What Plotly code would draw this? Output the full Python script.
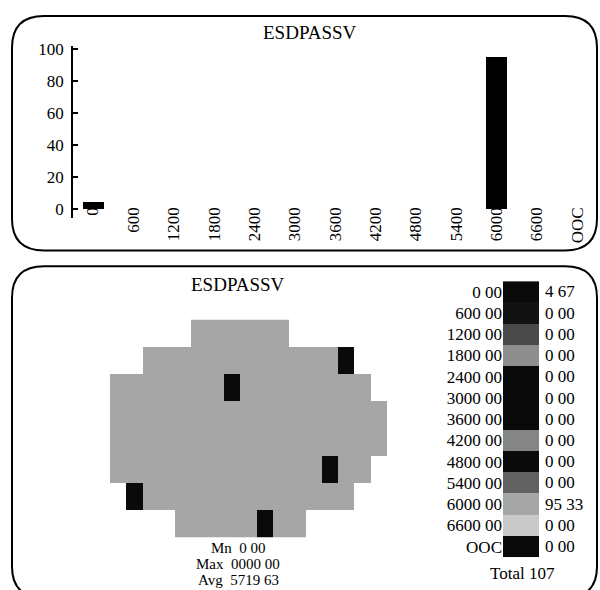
import plotly.graph_objects as go

# ---------------- data ----------------
bin_labels = ["0", "600", "1200", "1800", "2400", "3000", "3600",
              "4200", "4800", "5400", "6000", "6600", "OOC"]
bin_percent = [4.67, 0, 0, 0, 0, 0, 0, 0, 0, 0, 95.33, 0, 0]

legend_labels = ["0 00", "600 00", "1200 00", "1800 00", "2400 00", "3000 00",
                 "3600 00", "4200 00", "4800 00", "5400 00", "6000 00",
                 "6600 00", "OOC"]
legend_values = ["4 67", "0 00", "0 00", "0 00", "0 00", "0 00", "0 00",
                 "0 00", "0 00", "0 00", "95 33", "0 00", "0 00"]
bin_colors = ["#0a0a0a", "#121212", "#4a4a4a", "#8e8e8e", "#0a0a0a", "#0a0a0a",
              "#0a0a0a", "#858585", "#0a0a0a", "#626262", "#a6a6a6",
              "#c9c9c9", "#0a0a0a"]

# wafer map: 'g' = die in bin 6000, 'b' = die in bin 0, '.' = no die
wafer_map = [
    ".....gggggg......",
    "..ggggggggggggb..",
    "gggggggbgggggggg.",
    "ggggggggggggggggg",
    "ggggggggggggggggg",
    "gggggggggggggbgg.",
    ".bggggggggggggg..",
    "....gggggbgg.....",
]
die_code_value = {"g": 6000, "b": 0}

title_text = "ESDPASSV"
stats_lines = ["Mn  0 00", "Max  0000 00", "Avg  5719 63"]
total_text = "Total 107"

# ---------------- helpers ----------------
W, H = 600, 590
FONT = "Liberation Serif"


def X(px):
    return px / W


def Y(py):
    return 1 - py / H


def rounded_path(x0, y0, x1, y1, r):
    rx, ry = r / W, r / H
    a, b, c, d = X(x0), X(x1), Y(y0), Y(y1)  # c top, d bottom
    return (f"M {a+rx},{c} L {b-rx},{c} Q {b},{c} {b},{c-ry} "
            f"L {b},{d+ry} Q {b},{d} {b-rx},{d} L {a+rx},{d} "
            f"Q {a},{d} {a},{d+ry} L {a},{c-ry} Q {a},{c} {a+rx},{c} Z")


fig = go.Figure()

# ---------------- top histogram ----------------
fig.add_trace(go.Bar(
    x=bin_labels, y=bin_percent, marker=dict(color="black", line=dict(width=0)),
    width=0.52, xaxis="x", yaxis="y", showlegend=False,
))

# ---------------- wafer map ----------------
z_wafer = [[die_code_value.get(ch) for ch in row] for row in wafer_map]
fig.add_trace(go.Heatmap(
    z=z_wafer, xaxis="x2", yaxis="y2", zmin=0, zmax=6000,
    colorscale=[[0, "#0a0a0a"], [0.5, "#0a0a0a"], [0.5, "#a6a6a6"], [1, "#a6a6a6"]],
    showscale=False, hoverinfo="skip",
))

# ---------------- legend colour column ----------------
n = len(bin_colors)
cs = []
for i, c in enumerate(bin_colors):
    cs.append([i / n, c])
    cs.append([(i + 1) / n, c])
fig.add_trace(go.Heatmap(
    z=[[i] for i in range(n)], xaxis="x3", yaxis="y3",
    zmin=-0.5, zmax=n - 0.5, colorscale=cs, showscale=False, hoverinfo="skip",
))

tick_font = dict(family=FONT, size=17, color="black")

fig.update_layout(
    width=W, height=H, margin=dict(l=0, r=0, t=0, b=0),
    paper_bgcolor="white", plot_bgcolor="rgba(0,0,0,0)",
    font=dict(family=FONT, color="black"),
    bargap=0,
    xaxis=dict(
        domain=[X(72.8), X(597.2)], type="category", categoryorder="array",
        categoryarray=bin_labels, range=[-0.5, len(bin_labels) - 0.5],
        anchor="free", position=Y(199), tickangle=-90, showline=False,
        ticks="", showgrid=False, zeroline=False, tickfont=tick_font,
    ),
    yaxis=dict(
        domain=[Y(214.6), Y(40)], range=[-6, 102], anchor="x",
        tickvals=[0, 20, 40, 60, 80, 100], showline=True, linecolor="black",
        linewidth=1.5, ticks="inside", ticklen=5, tickcolor="black",
        tickwidth=1.5, showgrid=False, zeroline=False, tickfont=tick_font,
        ticklabelstandoff=4,
    ),
    xaxis2=dict(domain=[X(110), X(387)], range=[-0.5, 16.5], visible=False,
                anchor="y2"),
    yaxis2=dict(domain=[Y(537), Y(316.7)], range=[7.5, -0.5], visible=False,
                anchor="x2"),
    xaxis3=dict(domain=[X(503), X(539)], range=[-0.5, 0.5], visible=False,
                anchor="y3"),
    yaxis3=dict(domain=[Y(557), Y(278)], range=[n - 0.5, -0.5], anchor="x3",
                tickvals=list(range(n)), ticktext=legend_labels, ticks="",
                showline=False, showgrid=False, zeroline=False,
                tickfont=dict(family=FONT, size=17, color="black")),
)

annotations = [
    dict(x=X(310), y=Y(27), text=title_text, font=dict(family=FONT, size=19)),
    dict(x=X(238), y=Y(281), text=title_text, font=dict(family=FONT, size=19)),
    dict(x=X(522), y=Y(573), text=total_text, font=dict(family=FONT, size=17)),
]
for i, line in enumerate(stats_lines):
    annotations.append(dict(x=X(238), y=Y(548 + 16 * i), text=line,
                            font=dict(family=FONT, size=15)))
for i, v in enumerate(legend_values):
    annotations.append(dict(x=X(543), y=i, xref="paper", yref="y3", text=v,
                            xanchor="left", font=dict(family=FONT, size=17),
                            showarrow=False))
for a in annotations:
    a.setdefault("xref", "paper")
    a.setdefault("yref", "paper")
    a.setdefault("showarrow", False)
    a.setdefault("xanchor", "center")
    a.setdefault("yanchor", "middle")
    a["font"].setdefault("color", "black")
fig.update_layout(annotations=annotations)

fig.update_layout(shapes=[
    dict(type="path", path=rounded_path(12, 10, 597, 247, 32), xref="paper",
         yref="paper", line=dict(color="black", width=2), layer="above"),
    dict(type="path", path=rounded_path(12, 263, 597, 598, 32), xref="paper",
         yref="paper", line=dict(color="black", width=2), layer="above"),
])

fig.write_html("out.html")
